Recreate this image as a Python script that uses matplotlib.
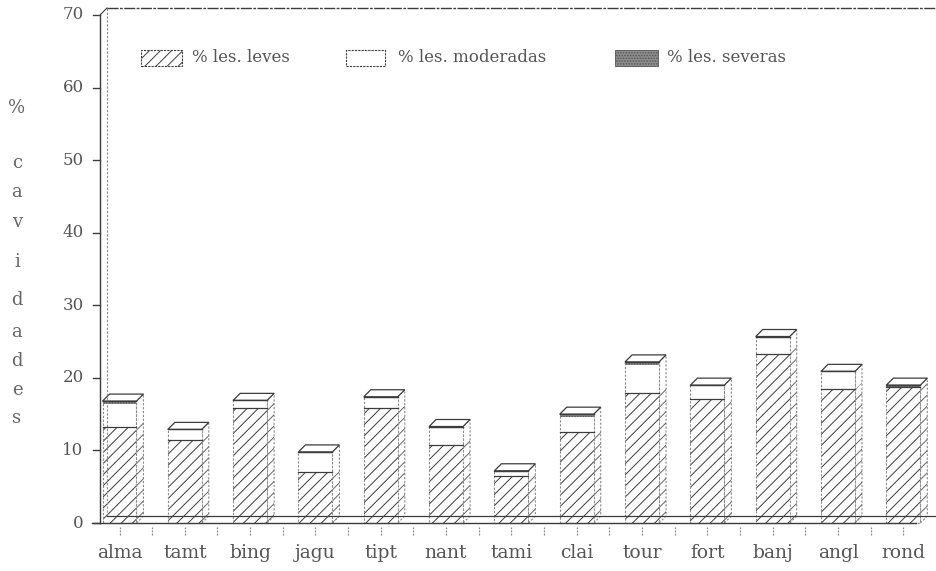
import matplotlib
matplotlib.use("Agg")
import matplotlib.pyplot as plt
from matplotlib.patches import Polygon, Rectangle

plt.rcParams['hatch.linewidth'] = 0.7

categories = ['alma', 'tamt', 'bing', 'jagu', 'tipt', 'nant', 'tami',
              'clai', 'tour', 'fort', 'banj', 'angl', 'rond']
leves = [13.2, 11.5, 15.9, 7.1, 15.9, 10.8, 6.5, 12.5, 17.9, 17.1, 23.3, 18.4, 18.7]
moderadas = [3.2, 1.4, 1.0, 2.7, 1.5, 2.5, 0.7, 2.1, 3.9, 1.9, 2.4, 2.5, 0.0]
severas = [0.4, 0.0, 0.0, 0.0, 0.0, 0.0, 0.0, 0.4, 0.4, 0.0, 0.0, 0.0, 0.3]
yticks = [0, 10, 20, 30, 40, 50, 60, 70]
legend_labels = ['% les. leves', '% les. moderadas', '% les. severas']
ylabel_text = '%cavidades'

W, H = 936, 571
fig = plt.figure(figsize=(W / 100, H / 100), dpi=100)
ax = fig.add_axes([100 / W, 0.0713, 836 / W, 0.9215])
ax.set_xlim(-0.2986, 12.50)
ax.set_ylim(-1, 71.5)
ax.axis('off')

INK = '#3c3c3c'
GREY = '#8a8a8a'
TXT = '#555555'
FONT = 'DejaVu Serif'
HATCH = '///'

bw = 0.52      # bar front width
dx = 0.107     # depth offset (x, data units)
dy = 0.965     # depth offset (y, data units)
x0 = -0.2986

# back wall, floor and frame
ax.plot([x0, x0], [0, 70], color=INK, lw=1.0, clip_on=False)
for t in yticks:
    ax.plot([x0 - 0.11, x0], [t, t], color=INK, lw=1.0, clip_on=False)
    ax.text(x0 - 0.25, t, str(t), ha='right', va='center', fontsize=12,
            family=FONT, color=TXT, clip_on=False)
ax.plot([x0 + dx, x0 + dx], [dy, 70 + dy], color=GREY, lw=0.8, ls=(0, (2, 1.5)))
ax.plot([x0, x0 + dx], [70, 70 + dy], color=INK, lw=0.8)
ax.plot([x0 + dx, 12.50], [70 + dy, 70 + dy], color=INK, lw=1.0, ls=(0, (8, 1, 2, 1)))
ax.plot([x0 - 0.12, 12.2], [0, 0], color=INK, lw=1.0, clip_on=False)
ax.plot([x0 + dx, 12.50], [dy, dy], color=INK, lw=0.9)

# category ticks and labels
tick_pos = [i * 0.5 for i in range(25)]
for p in tick_pos:
    ax.plot([p, p], [-1.6, -0.6], color=GREY, lw=0.9, ls=(0, (1.5, 1)),
            clip_on=False)
for i, c in enumerate(categories):
    ax.text(i, -4.1, c, ha='center', va='center', fontsize=13.5,
            family=FONT, color=TXT, clip_on=False)


def face(x, y0, y1, **kw):
    ax.add_patch(Rectangle((x - bw / 2, y0), bw, y1 - y0, **kw))


for i in range(len(categories)):
    L, M, S = leves[i], moderadas[i], severas[i]
    T = L + M + S
    xl, xr = i - bw / 2, i + bw / 2
    # side face
    side = Polygon([(xr, 0), (xr + dx, dy), (xr + dx, T + dy), (xr, T)],
                   closed=True, facecolor='white', edgecolor=GREY,
                   lw=0.8, ls=(0, (2, 1.5)))
    ax.add_patch(side)
    ax.add_patch(Polygon([(xr, 0), (xr + dx, dy), (xr + dx, L + dy), (xr, L)],
                         closed=True, facecolor='none', edgecolor='#666666',
                         hatch=HATCH, lw=0))
    # front face segments
    face(i, 0, L, facecolor='white', edgecolor=INK, hatch=HATCH, lw=0)
    if M > 0:
        face(i, L, L + M, facecolor='white', edgecolor='none', lw=0)
    if S > 0:
        face(i, L + M, T, facecolor='#8c8c8c', edgecolor='#555555',
             hatch='......', lw=0)
    face(i, 0, T, facecolor='none', edgecolor=GREY, lw=0.8, ls=(0, (2, 1.5)))
    ax.plot([xl, xr], [L, L], color=INK, lw=0.9)
    ax.plot([xl, xr], [T, T], color=INK, lw=1.0)
    # top cap
    ax.add_patch(Polygon([(xl, T), (xl + dx, T + dy), (xr + dx, T + dy), (xr, T)],
                         closed=True, facecolor='white', edgecolor=INK, lw=0.9))

# legend drawn in pixel coordinates
def px(x, y):
    return x / W, 1 - y / H


def legend_box(x1, x2, y1, y2, **kw):
    (fx, fy) = px(x1, y2)
    fig.add_artist(Rectangle((fx, fy), (x2 - x1) / W, (y2 - y1) / H,
                             transform=fig.transFigure, **kw))


legend_box(141, 182, 50, 66, facecolor='white', edgecolor=INK, hatch=HATCH,
           lw=0.8, ls=(0, (2, 1)))
legend_box(346, 385, 50, 66, facecolor='white', edgecolor=INK, lw=0.8,
           ls=(0, (2, 1)))
legend_box(615, 658, 50, 66, facecolor='#8c8c8c', edgecolor='#555555',
           hatch='......', lw=0.6)
for xt, lab in zip([192, 398, 667], legend_labels):
    fx, fy = px(xt, 58)
    fig.text(fx, fy, lab, ha='left', va='center', fontsize=12,
             family=FONT, color=TXT)

# stacked vertical axis title
ys = [108, 163, 192, 222, 262, 300, 332, 361, 390, 418]
for ch, yy in zip(ylabel_text, ys):
    fx, fy = px(17, yy)
    fig.text(fx, fy, ch, ha='center', va='center', fontsize=13,
             family=FONT, color='#666666')

fig.savefig('out.png', dpi=100)
